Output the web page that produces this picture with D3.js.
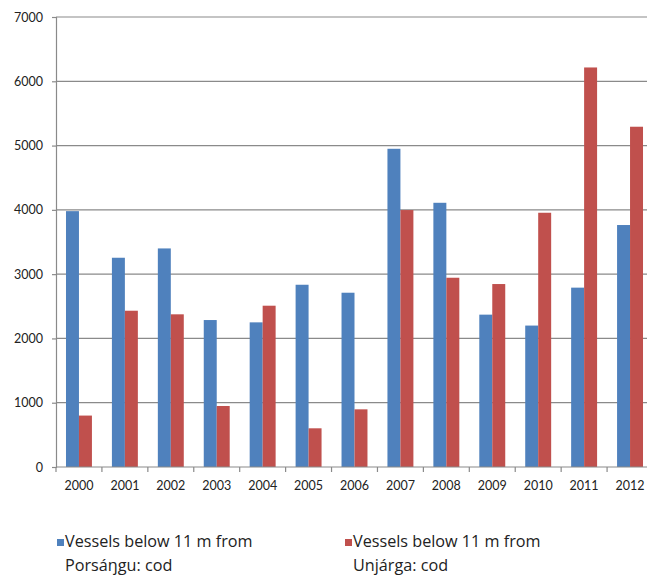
<!DOCTYPE html>
<html><head><meta charset="utf-8">
<script src="https://cdn.jsdelivr.net/npm/d3@7"></script>
<style>body{margin:0;background:#fff}svg{display:block}</style>
</head><body>
<svg id="c" width="647" height="575"></svg>
<script>
const years = ["2000","2001","2002","2003","2004","2005","2006","2007","2008","2009","2010","2011","2012"];
const porsangu = [3980,3255,3400,2286,2250,2835,2711,4950,4110,2370,2200,2790,3764];
const unjarga = [800,2431,2375,949,2509,602,897,3997,2944,2846,3955,6215,5293];
const yTicks = [0,1000,2000,3000,4000,5000,6000,7000];
const seriesNames = ["Vessels below 11 m from|Porsáŋgu: cod","Vessels below 11 m from|Unjárga: cod"];
const colors = ["#4F81BD","#C0504D"];

(function(){
const svg = d3.select("#c");
const mLeft = 56, mRight = 653, mTop = 17, mBottom = 467;
const x0 = d3.scaleBand().domain(years).range([mLeft, mRight]).padding(0);
const x1 = d3.scaleBand().domain([0,1]).range([0, x0.bandwidth()]).paddingInner(0).paddingOuter(0.77);
const y = d3.scaleLinear().domain([0,7000]).range([mBottom, mTop]);
const font = "Lato, 'Open Sans', sans-serif";
const legFont = "'Open Sans', sans-serif";

svg.append("g").selectAll("line").data(yTicks.filter(d=>d>0)).join("line")
  .attr("x1", mLeft).attr("x2", mRight).attr("y1", d=>y(d)).attr("y2", d=>y(d))
  .attr("stroke", "#8a8a8a").attr("stroke-width", 1.2);

const yAxis = svg.append("g").attr("transform", `translate(${mLeft},0)`)
  .call(d3.axisLeft(y).tickValues(yTicks).tickSize(4).tickPadding(9).tickFormat(d3.format("d")));
yAxis.select(".domain").attr("stroke", "#8a8a8a").attr("stroke-width", 1.2);
yAxis.selectAll(".tick line").attr("stroke", "#8a8a8a").attr("stroke-width", 1.2);
yAxis.selectAll("text").attr("font-family", font).attr("font-size", 12.5).attr("fill", "#222");

const series = [porsangu, unjarga];
series.forEach((vals, si) => {
  svg.append("g").selectAll("rect").data(vals).join("rect")
    .attr("x", (d,i)=>x0(years[i]) + x1(si))
    .attr("width", x1.bandwidth())
    .attr("y", d=>y(d))
    .attr("height", d=>y(0)-y(d))
    .attr("fill", colors[si]);
});

const xAxis = svg.append("g").attr("transform", `translate(0,${mBottom})`)
  .call(d3.axisBottom(x0).tickSize(0).tickPadding(14));
xAxis.select(".domain").remove();
svg.append("line").attr("x1", mLeft).attr("x2", mRight).attr("y1", mBottom).attr("y2", mBottom)
  .attr("stroke", "#8a8a8a").attr("stroke-width", 1.2);
svg.append("g").selectAll("line").data(years.concat(["end"])).join("line")
  .attr("x1", (d,i)=>mLeft + i*x0.step()).attr("x2", (d,i)=>mLeft + i*x0.step())
  .attr("y1", mBottom).attr("y2", mBottom+5)
  .attr("stroke", "#8a8a8a").attr("stroke-width", 1.2);
xAxis.selectAll("text").attr("font-family", font).attr("font-size", 12.5).attr("fill", "#222");

const legX = [57, 345];
seriesNames.forEach((name, i) => {
  const g = svg.append("g");
  g.append("rect").attr("x", legX[i]).attr("y", 539).attr("width", 7).attr("height", 7).attr("fill", colors[i]);
  name.split("|").forEach((t, j) => {
    g.append("text").attr("x", legX[i] + 8).attr("y", 547 + j*24)
      .attr("font-family", legFont).attr("font-size", 16.2).attr("fill", "#222").text(t);
  });
});
})();
</script>
</body></html>
